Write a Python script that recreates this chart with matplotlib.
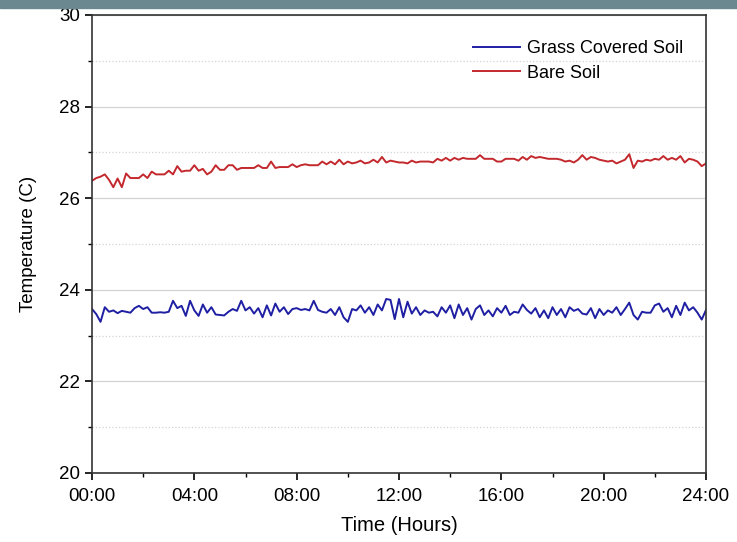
import numpy as np
import matplotlib.pyplot as plt
from matplotlib.patches import Rectangle

plt.rcParams['font.family'] = ['Liberation Sans', 'DejaVu Sans']

# readings every 10 minutes, 00:00 to 24:00
grass = [23.58, 23.47, 23.30, 23.62, 23.52, 23.55, 23.49, 23.54, 23.52, 23.50, 23.60, 23.65,
         23.58, 23.62, 23.50, 23.50, 23.51, 23.50, 23.52, 23.76, 23.60, 23.65, 23.43, 23.76,
         23.55, 23.43, 23.68, 23.50, 23.62, 23.46, 23.45, 23.44, 23.52, 23.58, 23.54, 23.76,
         23.55, 23.62, 23.48, 23.60, 23.40, 23.66, 23.44, 23.70, 23.52, 23.62, 23.47, 23.58,
         23.60, 23.56, 23.58, 23.55, 23.76, 23.56, 23.52, 23.50, 23.58, 23.45, 23.62, 23.40,
         23.30, 23.58, 23.55, 23.66, 23.50, 23.62, 23.45, 23.68, 23.55, 23.80, 23.78, 23.36,
         23.80, 23.40, 23.74, 23.48, 23.62, 23.45, 23.55, 23.50, 23.52, 23.42, 23.62, 23.50,
         23.66, 23.38, 23.68, 23.45, 23.60, 23.35, 23.58, 23.66, 23.45, 23.55, 23.42, 23.60,
         23.50, 23.65, 23.45, 23.52, 23.50, 23.68, 23.56, 23.48, 23.60, 23.40, 23.55, 23.38,
         23.62, 23.45, 23.58, 23.40, 23.62, 23.54, 23.58, 23.48, 23.46, 23.60, 23.38, 23.58,
         23.45, 23.55, 23.50, 23.62, 23.45, 23.58, 23.72, 23.45, 23.35, 23.52, 23.50, 23.50,
         23.66, 23.70, 23.52, 23.60, 23.40, 23.65, 23.45, 23.72, 23.55, 23.62, 23.50, 23.35,
         23.56]

bare = [26.38, 26.44, 26.47, 26.52, 26.40, 26.24, 26.43, 26.24, 26.54, 26.44, 26.44, 26.44,
        26.52, 26.44, 26.58, 26.52, 26.52, 26.52, 26.60, 26.52, 26.70, 26.58, 26.60, 26.60,
        26.72, 26.60, 26.64, 26.52, 26.58, 26.72, 26.62, 26.62, 26.72, 26.72, 26.62, 26.66,
        26.66, 26.66, 26.66, 26.72, 26.66, 26.66, 26.80, 26.66, 26.68, 26.68, 26.68, 26.74,
        26.68, 26.72, 26.74, 26.72, 26.72, 26.72, 26.80, 26.74, 26.80, 26.74, 26.84, 26.74,
        26.80, 26.76, 26.78, 26.82, 26.76, 26.78, 26.84, 26.78, 26.90, 26.78, 26.82, 26.80,
        26.78, 26.78, 26.76, 26.82, 26.78, 26.80, 26.80, 26.80, 26.78, 26.86, 26.82, 26.88,
        26.82, 26.88, 26.84, 26.88, 26.86, 26.86, 26.86, 26.94, 26.86, 26.86, 26.86, 26.80,
        26.80, 26.86, 26.86, 26.86, 26.82, 26.90, 26.84, 26.92, 26.88, 26.90, 26.88, 26.86,
        26.86, 26.86, 26.84, 26.80, 26.82, 26.78, 26.84, 26.94, 26.84, 26.90, 26.88, 26.84,
        26.82, 26.80, 26.82, 26.76, 26.80, 26.84, 26.96, 26.66, 26.82, 26.80, 26.84, 26.82,
        26.86, 26.84, 26.92, 26.84, 26.88, 26.84, 26.92, 26.78, 26.86, 26.84, 26.80, 26.70,
        26.76]

hours = np.arange(len(grass)) / 6.0
xticks = [0, 4, 8, 12, 16, 20, 24]
xlabels = ['00:00', '04:00', '08:00', '12:00', '16:00', '20:00', '24:00']

fig = plt.figure(figsize=(7.37, 5.42), dpi=100)
fig.patches.append(Rectangle((0, 1 - 8/542), 1, 8/542, transform=fig.transFigure,
                             color='#6b8891', zorder=0))
ax = fig.add_axes([92/737, 1 - 473/542, 614/737, 458/542])

ax.plot(hours, grass, color='#1f1fa3', lw=1.4, label='Grass Covered Soil')
ax.plot(hours, bare, color='#c3282d', lw=1.4, label='Bare Soil')

ax.set_xlim(0, 24)
ax.set_ylim(20, 30)
ax.set_xticks(xticks)
ax.set_xticklabels(xlabels)
ax.set_xticks([2, 6, 10, 14, 18, 22], minor=True)
ax.set_yticks([20, 22, 24, 26, 28, 30])
ax.set_yticks([21, 23, 25, 27, 29], minor=True)

ax.grid(True, axis='y', which='major', color='#d4d4d4', lw=0.9)
ax.grid(True, axis='y', which='minor', color='#d4d4d4', lw=0.9, ls=':')
ax.set_axisbelow(True)

ax.tick_params(which='both', direction='out', top=False, right=False, labelsize=13.5)
ax.tick_params(axis='x', which='major', pad=6)
ax.tick_params(which='major', length=5, width=1.2)
ax.tick_params(which='minor', length=3, width=1.0)
for s in ax.spines.values():
    s.set_linewidth(1.2)
    s.set_color('#333333')

ax.set_xlabel('Time (Hours)', fontsize=14.5, labelpad=8)
ax.set_ylabel('Temperature (C)', fontsize=13.5, labelpad=16)

ax.legend(loc='upper right', frameon=False, fontsize=13, handlelength=2.6,
          handletextpad=0.4, labelspacing=0.4, bbox_to_anchor=(0.99, 0.98))

plt.savefig('out.png', dpi=100)
